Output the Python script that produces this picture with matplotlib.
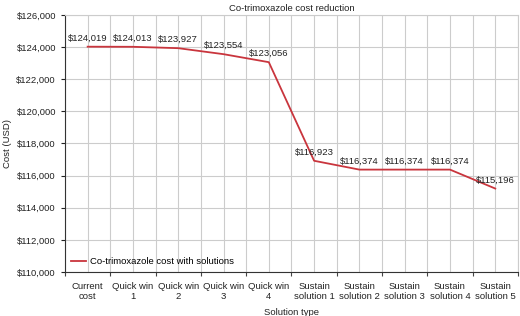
import numpy as np
import matplotlib.pyplot as plt
from matplotlib.ticker import FixedLocator, FuncFormatter

plt.rcParams['font.family'] = ['Liberation Sans', 'DejaVu Sans']

categories = ['Current\ncost', 'Quick win\n1', 'Quick win\n2', 'Quick win\n3', 'Quick win\n4',
              'Sustain\nsolution 1', 'Sustain\nsolution 2', 'Sustain\nsolution 3',
              'Sustain\nsolution 4', 'Sustain\nsolution 5']
costs = [124019, 124013, 123927, 123554, 123056, 116923, 116374, 116374, 116374, 115196]

fig = plt.figure(figsize=(5.2, 3.16), dpi=100)
ax = fig.add_axes([0.125, 0.139, 0.871, 0.814])

x = np.arange(len(categories))
ax.plot(x, costs, color='#c9353d', lw=1.3, label='Co-trimoxazole cost with solutions')
for xi, c in zip(x, costs):
    ax.annotate(f'${c:,}', (xi, c), xytext=(0, 3), textcoords='offset points',
                ha='center', va='bottom', fontsize=6.8, color='#222222')

ax.set_xlim(-0.5, len(categories) - 0.5)
ax.set_ylim(110000, 126000)
ax.set_yticks(np.arange(110000, 126001, 2000))
ax.yaxis.set_major_formatter(FuncFormatter(lambda v, p: f'${v:,.0f}'))

ax.xaxis.set_major_locator(FixedLocator(np.arange(-0.5, len(categories), 1.0)))
ax.xaxis.set_major_formatter(FuncFormatter(lambda v, p: ''))
ax.xaxis.set_minor_locator(FixedLocator(x))
ax.set_xticklabels(categories, minor=True)
ax.tick_params(axis='x', which='minor', length=0, labelsize=6.8, pad=7, colors='#222222')
ax.tick_params(axis='x', which='major', length=3, direction='out', color='#444444')
ax.tick_params(axis='y', length=3, labelsize=6.8, colors='#222222')

ax.grid(True, which='both', color='#cccccc', lw=0.8)
ax.set_axisbelow(True)
for s in ['top', 'right']:
    ax.spines[s].set_color('#cccccc')
for s in ['left', 'bottom']:
    ax.spines[s].set_color('#333333')

ax.set_title('Co-trimoxazole cost reduction', fontsize=6.8, pad=3, color='#222222')
ax.set_ylabel('Cost (USD)', fontsize=6.8, labelpad=3, color='#222222')
ax.set_xlabel('Solution type', fontsize=6.8, labelpad=5, color='#222222')
ax.legend(loc='lower left', frameon=False, fontsize=6.8, handlelength=1.6,
          handletextpad=0.5, borderaxespad=0.2)

fig.savefig('out.png', dpi=100)
